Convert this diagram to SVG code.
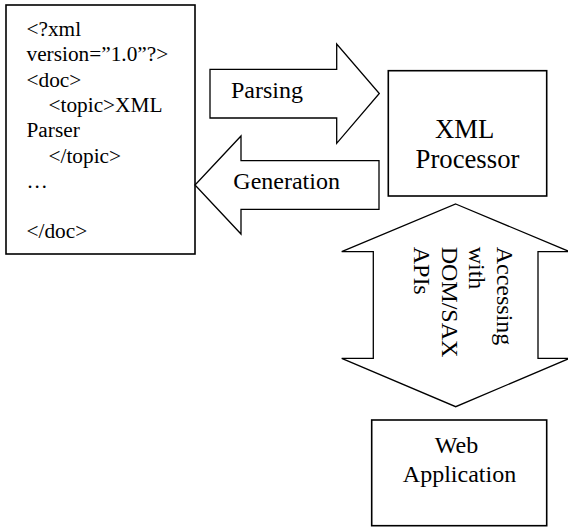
<svg xmlns="http://www.w3.org/2000/svg" width="568" height="529" viewBox="0 0 568 529">
  <style>
    .box { fill: #ffffff; stroke: #000000; stroke-width: 1.6; }
    .blk { fill: #ffffff; stroke: #000000; stroke-width: 1.3; stroke-linejoin: miter; }
    text { fill: #000000; }
  </style>

  <!-- XML document source -->
  <g id="xml-document">
    <rect class="box" x="6" y="5" width="189" height="249"/>
    <text font-family="'Liberation Serif', serif" font-size="21.3">
      <tspan x="26.5" y="36">&lt;?xml</tspan>
      <tspan x="26.5" y="61.3">version=”1.0”?&gt;</tspan>
      <tspan x="26.5" y="86.6">&lt;doc&gt;</tspan>
      <tspan x="48.5" y="111.9">&lt;topic&gt;XML</tspan>
      <tspan x="26.5" y="137.2">Parser</tspan>
      <tspan x="48.5" y="162.5">&lt;/topic&gt;</tspan>
      <tspan x="26.5" y="187.8">…</tspan>
      <tspan x="26.5" y="238.4">&lt;/doc&gt;</tspan>
    </text>
  </g>

  <!-- XML processor -->
  <g id="xml-processor">
    <rect class="box" x="388.3" y="70.7" width="158.4" height="125.3"/>
    <text font-family="'Liberation Serif', serif" font-size="26.7" text-anchor="middle">
      <tspan x="467.5" y="138.3">XML</tspan>
      <tspan x="467.5" y="168.3">Processor</tspan>
    </text>
  </g>

  <!-- Web application -->
  <g id="web-application">
    <rect class="box" x="371.7" y="420" width="175" height="105.7"/>
    <text font-family="'Liberation Serif', serif" font-size="24" text-anchor="middle">
      <tspan x="459.5" y="452.7">Web</tspan>
      <tspan x="459.5" y="481.7">Application</tspan>
    </text>
  </g>

  <!-- Block arrows between the parts -->
  <g id="connectors">
    <g id="parsing">
      <polygon class="blk" points="210,69.3 336.7,69.3 336.7,44 379.3,93.5 336.7,143.3 336.7,118 210,118"/>
      <text font-family="'Liberation Serif', serif" font-size="24" x="231" y="98.3">Parsing</text>
    </g>
    <g id="generation">
      <polygon class="blk" points="379,160.7 241,160.7 241,136 195,185 241,234 241,209.3 379,209.3"/>
      <text font-family="'Liberation Serif', serif" font-size="24" x="233.3" y="189.3">Generation</text>
    </g>
    <g id="accessing">
      <polygon class="blk" points="455.7,204 569.7,251.7 538,251.7 538,358.3 569.7,358.3 455.7,406.7 341.7,358.3 373.3,358.3 373.3,251.7 341.7,251.7"/>
      <text font-family="'Liberation Serif', serif" font-size="24" transform="translate(496.7,246.7) rotate(90)">
        <tspan x="0" y="0">Accessing</tspan>
        <tspan x="0" y="27.5">with</tspan>
        <tspan x="0" y="55">DOM/SAX</tspan>
        <tspan x="0" y="82.5">APIs</tspan>
      </text>
    </g>
  </g>
</svg>
